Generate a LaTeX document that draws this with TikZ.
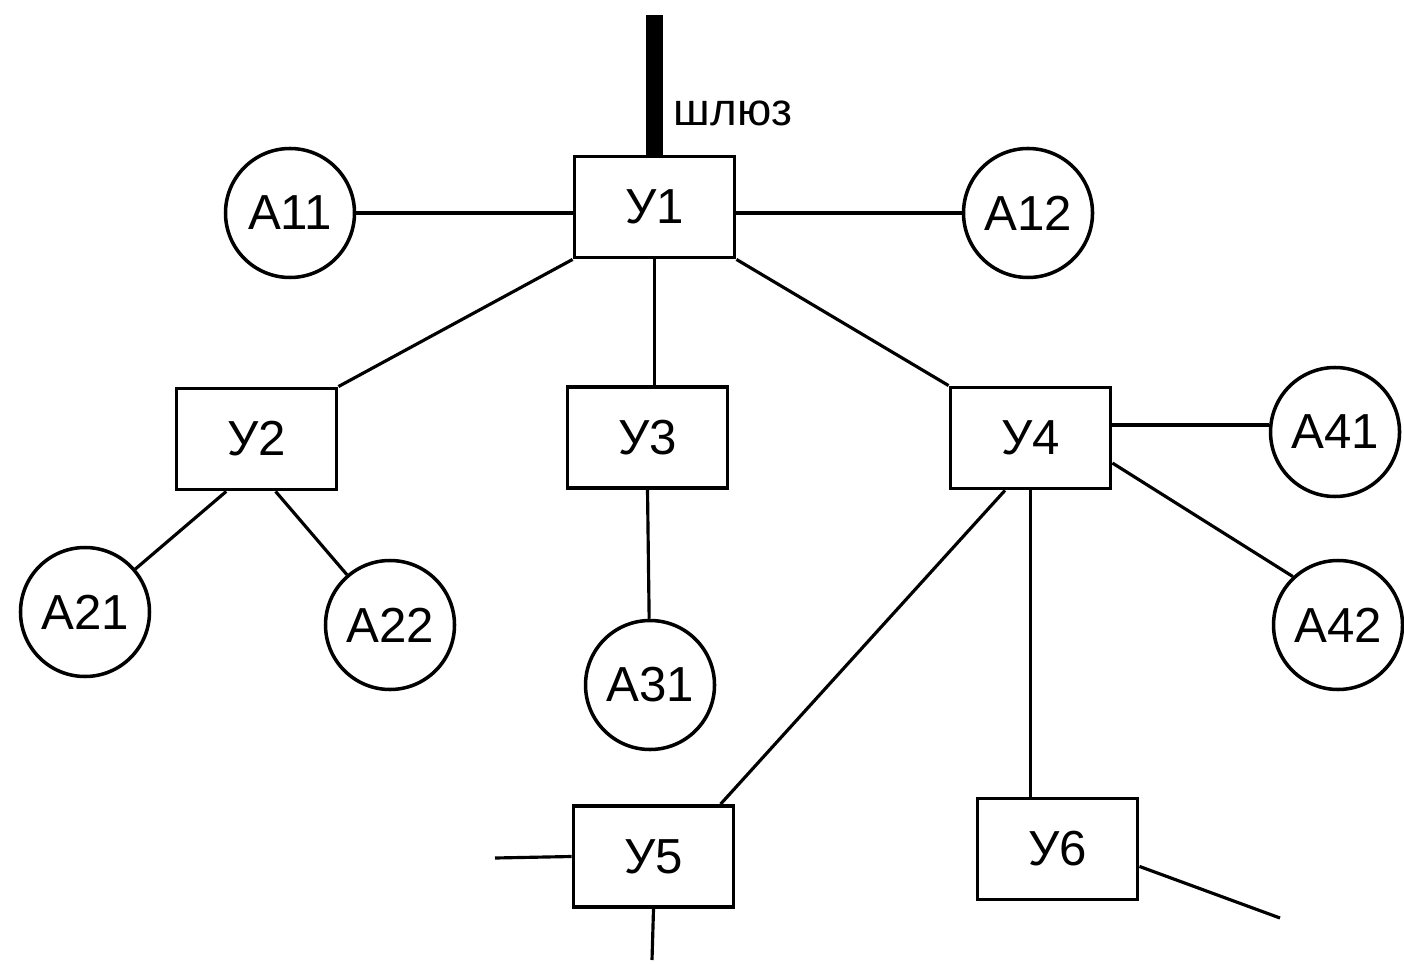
\documentclass[tikz,border=0pt]{standalone}
\usepackage{fontspec}
\setmainfont{Liberation Sans}
\begin{document}
\begin{tikzpicture}[
    ubox/.style = {draw = black, line width = 1.1pt, minimum width = 1.6cm, minimum height = 1.01cm, font = \fontsize{14}{16}\selectfont},
    anode/.style = {circle, draw = black, line width = 1pt, minimum size = 1.29cm, inner sep = 0pt, font = \fontsize{14}{16}\selectfont},
    link/.style = {line width = 0.9pt}
]

    \useasboundingbox (0,0) rectangle (14.04,-9.65);

    \foreach \n/\t/\x/\y in {u1/У1/6.545/-2.07,u2/У2/2.565/-4.39,u3/У3/6.475/-4.375,u4/У4/10.305/-4.38,u5/У5/6.535/-8.565,u6/У6/10.575/-8.49}{
    \node[ubox] (\n) at (\x,\y) {\t};
}

    \foreach \n/\t/\x/\y in {a11/А11/2.9/-2.13,a12/А12/10.28/-2.13,a21/А21/0.85/-6.12,a22/А22/3.9/-6.25,a31/А31/6.5/-6.85,a41/А41/13.35/-4.32,a42/А42/13.38/-6.25}{
    \node[anode] (\n) at (\x,\y) {\t};
}

\coordinate (gw) at (6.545,-0.15);
\draw[line width = 4.8pt] (gw) -- (gw |- u1.north);
\node[font = \fontsize{13}{15}\selectfont] (gwl) at (7.33,-1.13) {шлюз};

\draw[link] (a11) -- (a11 -| u1.west);
\draw[link] (a12) -- (a12 -| u1.east);
\draw[link] (u1.south west) -- (u2.north east);
\draw[link] (u1.south) -- (u1.south |- u3.north);
\draw[link] (u1.south east) -- (u4.north west);

\draw[link] (u2.240) -- (a21);
\draw[link] (u2.290) -- (a22);
\draw[link] (u3.south) -- (a31);

\draw[link] (u4.east |- 0,-4.25) -- (a41.west |- 0,-4.25);
\draw[link] (u4.343) -- (a42.133);
\draw[link] (u4.244) -- (u5.38);
\draw[link] (u4.south) -- (u4.south |- u6.north);

\coordinate (w5) at (4.95,-8.58);
\coordinate (s5) at (6.52,-9.6);
\coordinate (e6) at (12.8,-9.18);
\draw[link] (w5) -- (u5.west);
\draw[link] (u5.south) -- (s5);
\draw[link] (u6.348) -- (e6);

\end{tikzpicture}
\end{document}
